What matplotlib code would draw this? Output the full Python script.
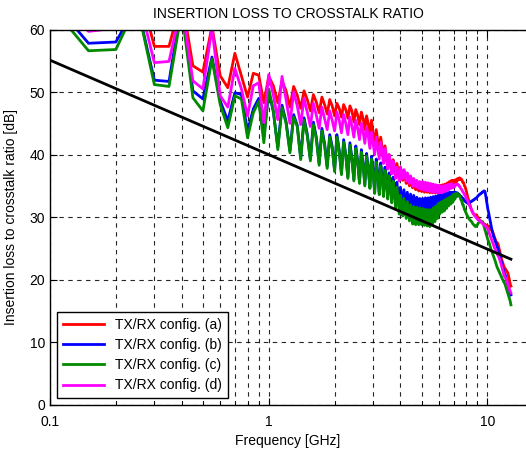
import numpy as np
import matplotlib
matplotlib.use('Agg')
import matplotlib.pyplot as plt

plt.rcParams['font.family'] = ['Liberation Sans', 'DejaVu Sans']

# frequency grid [GHz], 0.05 GHz step from 0.1 to 12.8
freq = np.round(np.arange(2, 257) * 0.05, 2)

# ILR curves [dB], one row per GHz (first row 0.10-0.95, last row 12.00-12.80)
ilr_a = [
    68, 62, 62, 68, 57.3, 57.3, 65, 54.2, 53.2, 60.5, 52.6, 50.7, 56.2, 52.6, 49.2, 53.0, 52.7, 48.3,
    52.5, 51.0, 48.3, 51.8, 50.2, 47.6, 50.9, 49.5, 47.4, 50.2, 48.8, 47.0, 49.6, 48.4, 46.7, 49.2, 48.0, 46.5, 48.8, 47.8,
    46.2, 48.2, 47.4, 46.0, 48.0, 47.2, 45.8, 47.8, 47.0, 45.2, 47.2, 46.3, 44.8, 46.8, 45.8, 44.0, 46.2, 45.0, 43.0, 45.5,
    43.3, 41.7, 44.0, 42.3, 40.6, 42.8, 41.2, 39.6, 41.4, 39.8, 38.2, 40.0, 38.7, 37.4, 39.2, 38.0, 36.6, 38.6, 37.5, 36.1,
    38.0, 37.0, 35.9, 37.4, 36.5, 35.4, 36.8, 36.0, 35.0, 36.3, 35.6, 34.7, 35.9, 35.2, 34.4, 35.6, 35.0, 34.2, 35.4, 34.8,
    34.1, 35.5, 35.0, 34.0, 35.4, 34.9, 34.0, 35.3, 34.8, 33.9, 35.2, 34.7, 33.9, 35.2, 34.7, 33.9, 35.1, 34.6, 33.9, 35.1,
    34.6, 34.0, 35.1, 34.7, 34.1, 35.2, 34.8, 34.3, 35.3, 35.0, 34.5, 35.5, 35.2, 34.7, 35.7, 35.4, 35.0, 35.9, 35.6, 35.2,
    35.9, 35.7, 35.4, 36.0, 35.9, 35.7, 36.2, 36.1, 36.0, 36.3, 36.2, 36.0, 36.1, 35.9, 35.6, 35.6, 35.4, 35.0, 34.9, 34.5,
    34.2, 33.8, 33.4, 33.0, 32.8, 32.5, 32.1, 31.8, 31.5, 31.2, 31.0, 30.8, 30.6, 30.5, 30.4, 30.3, 30.3, 30.4, 30.4, 30.2,
    30.1, 30.0, 29.8, 29.7, 29.6, 29.5, 29.4, 29.3, 29.2, 29.1, 29.1, 29.0, 29.0, 28.9, 28.9, 28.8, 28.8, 28.7, 28.7, 28.6,
    28.6, 28.5, 28.5, 28.6, 28.5, 28.3, 28.1, 28.0, 28.1, 27.9, 27.8, 27.7, 27.5, 27.3, 27.1, 26.9, 26.7, 26.5, 26.3, 26.1,
    26.0, 25.9, 25.9, 25.8, 25.6, 25.3, 25.0, 24.7, 24.4, 24.1, 23.8, 23.5, 23.3, 23.1, 22.9, 22.7, 22.5, 22.3, 22.1, 22.0,
    21.9, 21.8, 21.7, 21.6, 21.5, 21.4, 21.3, 21.2, 21.1, 20.8, 20.5, 20.2, 19.9, 19.6, 19.3, 19.1, 19.0,
]
ilr_b = [
    65, 57.8, 58.0, 64, 51.9, 51.7, 64, 50.2, 48.9, 55.6, 48.6, 45.4, 49.9, 49.6, 43.8, 47.3, 49.0, 43.0,
    50.2, 46.8, 41.2, 47.9, 45.3, 40.6, 46.4, 44.7, 39.5, 45.9, 43.3, 39.3, 45.2, 42.8, 38.6, 44.2, 41.8, 38.1, 43.2, 41.3,
    37.5, 43.2, 40.7, 37.0, 42.4, 40.0, 36.4, 41.9, 39.5, 36.0, 41.4, 39.0, 35.6, 40.8, 38.5, 35.2, 40.2, 38.0, 34.8, 39.7,
    37.5, 34.0, 39.3, 37.1, 34.0, 38.7, 36.6, 33.8, 38.0, 36.0, 33.5, 37.1, 35.5, 33.0, 36.4, 34.8, 32.4, 35.6, 34.0, 31.7,
    34.8, 33.2, 31.5, 34.4, 32.9, 31.3, 34.0, 32.6, 31.1, 33.7, 32.4, 31.0, 33.5, 32.2, 31.0, 33.2, 32.0, 31.0, 33.0, 32.0,
    31.0, 33.0, 32.2, 31.1, 33.1, 32.3, 31.2, 33.1, 32.4, 31.3, 33.2, 32.5, 31.5, 33.3, 32.6, 31.7, 33.4, 32.7, 31.9, 33.5,
    33.0, 32.0, 33.6, 33.1, 32.2, 33.7, 33.2, 32.4, 33.8, 33.3, 32.5, 33.9, 33.4, 32.7, 34.0, 33.5, 32.8, 34.0, 33.6, 33.0,
    34.0, 33.8, 33.3, 34.0, 33.8, 33.5, 33.9, 33.7, 33.5, 33.6, 33.4, 33.2, 33.3, 33.1, 32.9, 33.0, 32.8, 32.6, 32.6, 32.5,
    32.4, 32.3, 32.3, 32.2, 32.3, 32.3, 32.4, 32.4, 32.5, 32.5, 32.6, 32.7, 32.7, 32.8, 32.8, 32.9, 33.0, 33.0, 33.1, 33.2,
    33.3, 33.4, 33.5, 33.6, 33.6, 33.7, 33.8, 33.8, 33.9, 34.0, 34.0, 34.1, 34.1, 34.2, 34.2, 34.0, 33.6, 33.1, 32.6, 32.1,
    31.6, 31.2, 30.9, 30.5, 30.1, 29.7, 29.3, 28.9, 28.5, 28.2, 27.9, 27.6, 27.3, 27.0, 26.8, 26.6, 26.4, 26.2, 26.0, 25.8,
    25.6, 25.4, 25.2, 25.0, 24.8, 24.6, 24.4, 24.1, 23.8, 23.6, 23.3, 23.0, 22.8, 22.5, 22.2, 22.0, 21.7, 21.5, 21.3, 21.1,
    21.0, 20.8, 20.6, 20.4, 20.1, 19.8, 19.6, 19.3, 19.1, 18.9, 18.7, 18.5, 18.3, 18.1, 17.9, 17.7, 17.6,
]
ilr_c = [
    64, 56.6, 56.8, 64, 51.2, 50.9, 63, 49.1, 47.0, 55.3, 48.0, 44.3, 49.4, 48.9, 42.7, 46.7, 48.5, 41.9,
    50.5, 47.0, 40.8, 47.5, 45.0, 40.3, 46.0, 44.5, 39.2, 45.5, 43.0, 39.0, 44.8, 42.5, 38.3, 43.8, 41.5, 37.8, 42.8, 41.0,
    37.3, 42.8, 40.5, 36.8, 42.0, 39.8, 36.2, 41.5, 39.3, 35.8, 41.0, 38.8, 35.4, 40.4, 38.3, 35.0, 39.8, 37.8, 34.6, 39.3,
    37.0, 33.8, 38.8, 36.6, 33.6, 38.2, 36.0, 33.3, 37.5, 35.4, 32.9, 36.6, 34.8, 32.3, 35.8, 34.0, 31.5, 34.8, 33.2, 30.5,
    33.5, 32.0, 30.2, 33.0, 31.4, 29.8, 32.5, 31.0, 29.4, 32.0, 30.6, 28.9, 31.7, 30.4, 28.8, 31.6, 30.3, 28.8, 31.5, 30.2,
    28.8, 31.4, 30.3, 28.7, 31.3, 30.2, 28.6, 31.2, 30.1, 28.5, 31.2, 30.2, 28.8, 31.5, 30.5, 29.3, 31.8, 30.9, 29.8, 32.2,
    31.6, 30.5, 32.4, 31.8, 30.8, 32.6, 32.0, 31.0, 32.8, 32.2, 31.4, 33.0, 32.5, 31.8, 33.2, 32.8, 32.1, 33.4, 33.0, 32.4,
    33.7, 33.4, 32.9, 33.8, 33.6, 33.3, 33.8, 33.6, 33.4, 33.5, 33.2, 32.8, 32.8, 32.4, 32.0, 32.0, 31.6, 31.2, 31.2, 30.8,
    30.6, 30.4, 30.2, 30.0, 29.9, 29.7, 29.6, 29.5, 29.4, 29.3, 29.2, 29.0, 28.9, 28.8, 28.7, 28.6, 28.6, 28.5, 28.6, 28.7,
    28.8, 29.0, 29.1, 29.2, 29.3, 29.4, 29.4, 29.3, 29.2, 29.3, 29.3, 29.0, 28.8, 28.5, 28.2, 27.9, 27.7, 27.4, 27.1, 26.9,
    26.6, 26.4, 26.2, 26.0, 25.8, 25.5, 25.3, 25.0, 24.8, 24.6, 24.4, 24.2, 24.0, 23.8, 23.6, 23.4, 23.2, 23.0, 22.8, 22.5,
    22.3, 22.1, 21.9, 21.8, 21.6, 21.5, 21.3, 21.2, 21.0, 20.9, 20.7, 20.6, 20.4, 20.3, 20.1, 20.0, 19.9, 19.7, 19.6, 19.5,
    19.4, 19.2, 19.0, 18.8, 18.6, 18.4, 18.2, 18.0, 17.8, 17.6, 17.4, 17.2, 17.0, 16.8, 16.6, 16.3, 16.0,
]
ilr_d = [
    66, 59.7, 60.2, 66, 54.7, 54.9, 64, 51.8, 50.5, 60.2, 49.4, 47.6, 53.8, 50.5, 46.2, 51.0, 51.5, 45.1,
    52.8, 49.5, 45.6, 52.5, 48.8, 45.0, 50.0, 47.8, 44.8, 49.0, 46.8, 44.5, 48.2, 46.3, 44.2, 47.6, 45.8, 44.0, 47.0, 45.5,
    43.8, 46.8, 45.5, 43.5, 46.4, 45.0, 43.2, 46.0, 44.6, 42.8, 45.5, 44.2, 42.4, 45.0, 43.6, 41.8, 44.4, 43.0, 41.0, 43.6,
    41.8, 40.0, 42.8, 41.0, 39.3, 42.0, 40.2, 38.6, 41.0, 39.2, 37.7, 40.0, 38.3, 36.9, 39.0, 37.5, 36.2, 38.0, 37.0, 35.8,
    38.0, 37.2, 36.2, 37.6, 36.8, 35.8, 37.1, 36.4, 35.4, 36.6, 36.0, 35.0, 36.2, 35.6, 34.8, 35.9, 35.3, 34.6, 35.7, 35.1,
    34.4, 35.7, 35.2, 34.3, 35.6, 35.1, 34.2, 35.5, 35.0, 34.1, 35.4, 34.9, 34.0, 35.3, 34.8, 34.0, 35.2, 34.7, 33.9, 35.1,
    34.5, 33.9, 35.0, 34.5, 33.9, 35.0, 34.6, 34.1, 35.1, 34.7, 34.2, 35.2, 34.8, 34.4, 35.3, 35.0, 34.6, 35.4, 35.1, 34.7,
    35.1, 35.0, 34.9, 35.3, 35.3, 35.2, 35.3, 35.2, 35.0, 35.0, 34.8, 34.6, 34.5, 34.3, 34.1, 34.0, 33.8, 33.6, 33.5, 33.3,
    33.1, 32.9, 32.7, 32.5, 32.2, 32.0, 31.8, 31.6, 31.4, 31.2, 31.0, 30.9, 30.7, 30.5, 30.4, 30.2, 30.1, 30.0, 29.9, 29.8,
    29.7, 29.6, 29.6, 29.5, 29.5, 29.4, 29.3, 29.2, 29.2, 29.1, 29.0, 28.9, 28.9, 28.8, 28.7, 28.6, 28.6, 28.5, 28.4, 28.3,
    28.2, 28.0, 27.8, 27.6, 27.4, 27.2, 27.0, 26.8, 26.6, 26.4, 26.2, 26.0, 25.8, 25.6, 25.4, 25.2, 25.0, 24.9, 24.7, 24.5,
    24.3, 24.2, 24.0, 23.9, 23.8, 23.7, 23.5, 23.3, 23.1, 22.9, 22.7, 22.5, 22.2, 22.0, 21.7, 21.5, 21.3, 21.0, 20.8, 20.6,
    20.5, 20.4, 20.3, 20.1, 20.0, 19.8, 19.6, 19.4, 19.2, 19.0, 18.8, 18.6, 18.5, 18.3, 18.2, 18.0, 17.9,
]

# ILR limit line (black)
limit_freq = [0.1, 1, 10, 12.8]
limit_ilr = [55.1, 40.0, 24.9, 23.3]

labels = ['TX/RX config. (a)', 'TX/RX config. (b)', 'TX/RX config. (c)', 'TX/RX config. (d)']
colors = ['#ff0000', '#0000ff', '#008a00', '#ff00ff']

fig = plt.figure(figsize=(5.26, 4.49), dpi=100)
ax = fig.add_axes([50 / 526, 44 / 449, 476 / 526, 375.5 / 449])

for y, lab, c in zip([ilr_a, ilr_b, ilr_c, ilr_d], labels, colors):
    ax.plot(freq, y, color=c, lw=2.0, label=lab)
ax.plot(limit_freq, limit_ilr, color='black', lw=2.0)

ax.set_xscale('log')
ax.set_xlim(0.1, 15)
ax.set_ylim(0, 60)
ax.set_yticks(np.arange(0, 61, 10))
ax.set_xticks([0.1, 1, 10])
ax.set_xticklabels(['0.1', '1', '10'])
ax.xaxis.set_minor_formatter(matplotlib.ticker.NullFormatter())

ax.grid(True, which='major', axis='both', color='black', linestyle=(0, (4, 4)), lw=0.8, alpha=0.85)
ax.grid(True, which='minor', axis='x', color='black', linestyle=(0, (4, 4)), lw=0.8, alpha=0.85)
ax.set_axisbelow(True)

ax.tick_params(which='both', direction='in', top=True, right=False, labelsize=10)
ax.tick_params(which='major', length=5)
ax.tick_params(axis='x', which='major', pad=7)
ax.tick_params(which='minor', length=3)
ax.spines['right'].set_visible(False)
for s in ['left', 'bottom', 'top']:
    ax.spines[s].set_linewidth(1.0)

ax.set_title('INSERTION LOSS TO CROSSTALK RATIO', fontsize=10, pad=8)
ax.set_xlabel('Frequency [GHz]', fontsize=10, labelpad=4)
ax.set_ylabel('Insertion loss to crosstalk ratio [dB]', fontsize=10, labelpad=8)

leg = ax.legend(loc='lower left', fontsize=10, handlelength=3.0, fancybox=False,
                framealpha=1, edgecolor='black', borderaxespad=0.5, labelspacing=0.45)
leg.get_frame().set_linewidth(1.0)

fig.savefig('out.png', dpi=100)
